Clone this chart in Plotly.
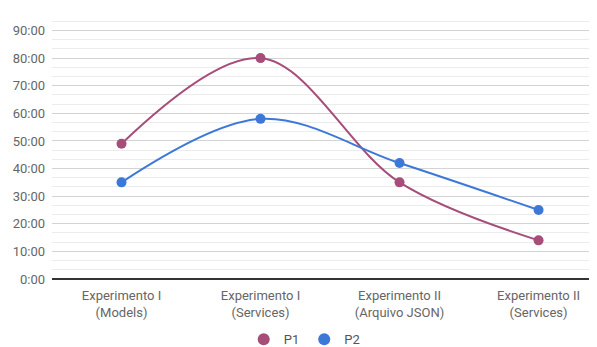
import plotly.graph_objects as go

categories = ["Experimento I<br>(Models)", "Experimento I<br>(Services)",
              "Experimento II<br>(Arquivo JSON)", "Experimento II<br>(Services)"]
p1 = [49, 80, 35, 14]
p2 = [35, 58, 42, 25]
tick_vals = [0, 10, 20, 30, 40, 50, 60, 70, 80, 90]
tick_text = ["0:00", "10:00", "20:00", "30:00", "40:00", "50:00", "60:00", "70:00", "80:00", "90:00"]

xi = list(range(len(categories)))
c1, c2 = "#a64d79", "#3c78d8"

fig = go.Figure()
fig.add_trace(go.Scatter(x=xi, y=p1, name="P1", mode="lines+markers", showlegend=False,
                         line=dict(color=c1, width=2, shape="spline", smoothing=1),
                         marker=dict(size=10, color=c1)))
fig.add_trace(go.Scatter(x=xi, y=p2, name="P2", mode="lines+markers", showlegend=False,
                         line=dict(color=c2, width=2, shape="spline", smoothing=1),
                         marker=dict(size=10, color=c2)))
# legend entries (marker only)
fig.add_trace(go.Scatter(x=[None], y=[None], name="P1", mode="markers",
                         marker=dict(size=12, color=c1)))
fig.add_trace(go.Scatter(x=[None], y=[None], name="P2", mode="markers",
                         marker=dict(size=12, color=c2)))

fig.update_layout(
    width=597, height=347,
    margin=dict(l=44, r=0, t=4, b=76),
    paper_bgcolor="white", plot_bgcolor="white",
    font=dict(family="Roboto", size=13, color="#444"),
    showlegend=True,
    legend=dict(orientation="h", xref="container", yref="container",
                x=0.497, xanchor="center", y=0.045, yanchor="middle",
                font=dict(size=13, color="#555"), itemsizing="constant"),
    xaxis=dict(range=[-0.5, 3.478], tickvals=xi, ticktext=categories, automargin=False,
               showgrid=False, zeroline=False, showline=False, ticks="",
               ticklabelstandoff=7,
               tickfont=dict(size=13, color="#666")),
    yaxis=dict(range=[0, 96.7], tickvals=tick_vals, ticktext=tick_text, automargin=False,
               showgrid=True, gridcolor="#d4d4d4", gridwidth=1,
               zeroline=True, zerolinecolor="#333333", zerolinewidth=1.5,
               showline=False, ticks="", ticklabelstandoff=6,
               tickfont=dict(size=13, color="#666"),
               minor=dict(dtick=10/3, showgrid=True, gridcolor="#ececec", gridwidth=1)),
)

fig.write_html("out.html")
